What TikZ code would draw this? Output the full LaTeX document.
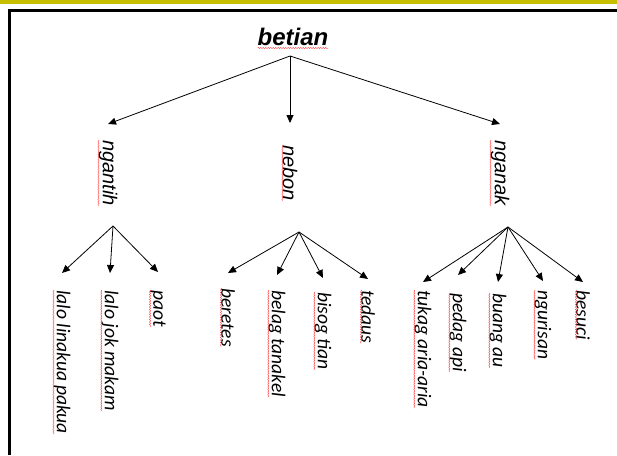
\documentclass[tikz,border=0pt]{standalone}
\usepackage{fontspec}
\newfontfamily\arialfont{Liberation Sans}
\newfontfamily\calfont{Carlito}
\usetikzlibrary{arrows.meta,decorations.pathmorphing}
\definecolor{bandyellow}{RGB}{200,190,0}
\begin{document}
\begin{tikzpicture}[x=1pt,y=-1pt,
    arr/.style={-{Triangle[length=8pt,width=7pt]},line width=0.8pt},
    midword/.style={rotate=-90,anchor=west,inner sep=0pt,font=\arialfont\itshape\fontsize{20}{20}\selectfont},
    leaf/.style={rotate=-90,anchor=west,inner sep=0pt,font=\calfont\itshape\fontsize{19.5}{19.5}\selectfont},
    squig/.style={draw=red!75,line width=0.4pt,decorate,decoration={snake,amplitude=0.6pt,segment length=2.5pt}}]
    \useasboundingbox (0,0) rectangle (617,455);
    % frame
    \fill[bandyellow] (0,0) rectangle (617,4);
    \draw[line width=2.5pt] (9.5,455) -- (9.5,10.5) -- (617,10.5);

    % top
    \node[inner sep=0pt,font=\arialfont\bfseries\itshape\fontsize{24}{24}\selectfont] (betian) at (293,37) {betian};
    \coordinate (top) at (290,56);

    % second row
    \node[midword] (ngantih) at (108,140) {ngantih};
    \node[midword] (nebon) at (290,145) {nebon};
    \node[midword] (nganak) at (500,140) {nganak};
    \coordinate (ngantih-b) at (113,226);
    \coordinate (nebon-b) at (299,232);
    \coordinate (nganak-b) at (508,227);

    % leaves
    \node[leaf] (linakua) at (62,290) {lalo linakua pakua};
    \node[leaf] (jokmakam) at (110,290) {lalo jok makam};
    \node[leaf] (paot) at (158,290) {paot};
    \node[leaf] (beretes) at (228,288) {beretes};
    \node[leaf] (tanakel) at (277,290) {belag tanakel};
    \node[leaf] (tian) at (323,292) {bisog tian};
    \node[leaf] (tedaus) at (368,290) {tedaus};
    \node[leaf] (ariaaria) at (423,290) {tukag aria-aria};
    \node[leaf] (api) at (458,293) {pedag api};
    \node[leaf] (au) at (498,293) {buang au};
    \node[leaf] (ngurisan) at (543,290) {ngurisan};
    \node[leaf] (besuci) at (583,290) {besuci};

    % spelling marks
    \draw[squig] ([yshift=-2pt]betian.south west) -- ([yshift=-2pt]betian.south east);
    \foreach \w in {ngantih,nebon,nganak,linakua,jokmakam,paot,beretes,tanakel,tian,tedaus,ariaaria,api,au,ngurisan,besuci}
      \draw[squig] (\w.south west) -- (\w.south east);

    % arrows
    \draw[arr] (top) -- ([yshift=16pt]ngantih.west);
    \draw[arr] (top) -- ([yshift=22pt]nebon.west);
    \draw[arr] (top) -- ([yshift=16pt]nganak.west);

    \draw[arr] (ngantih-b) -- ([yshift=17pt]linakua.west);
    \draw[arr] (ngantih-b) -- ([yshift=17pt]jokmakam.west);
    \draw[arr] (ngantih-b) -- ([yshift=18pt]paot.west);

    \draw[arr] (nebon-b) -- ([yshift=15pt]beretes.west);
    \draw[arr] (nebon-b) -- ([yshift=15pt]tanakel.west);
    \draw[arr] (nebon-b) -- ([yshift=14pt]tian.west);
    \draw[arr] (nebon-b) -- ([yshift=11pt]tedaus.west);

    \draw[arr] (nganak-b) -- ([yshift=8pt]ariaaria.west);
    \draw[arr] (nganak-b) -- ([yshift=18pt]api.west);
    \draw[arr] (nganak-b) -- ([yshift=11pt]au.west);
    \draw[arr] (nganak-b) -- ([yshift=9pt]ngurisan.west);
    \draw[arr] (nganak-b) -- ([yshift=8pt]besuci.west);
  \end{tikzpicture}
\end{document}
